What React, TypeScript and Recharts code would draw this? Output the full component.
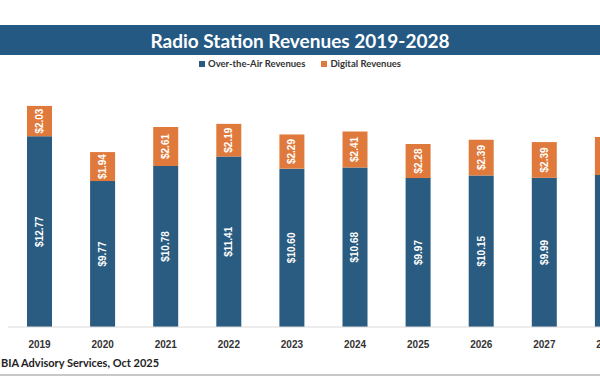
import React from 'react';
import { BarChart, Bar, XAxis, YAxis, LabelList } from 'recharts';

const years = ['2019', '2020', '2021', '2022', '2023', '2024', '2025', '2026', '2027', '2028'];
const overTheAir = [12.77, 9.77, 10.78, 11.41, 10.6, 10.68, 9.97, 10.15, 9.99, 10.17];
const digital = [2.03, 1.94, 2.61, 2.19, 2.29, 2.41, 2.28, 2.39, 2.39, 2.55];

const BLUE = '#2a5b80';
const ORANGE = '#e07a3c';
const TITLE_BG = '#245984';

const data = years.map((year, i) => ({ year, ota: overTheAir[i], digital: digital[i] }));

const renderLabel = (props: any) => {
  const { x, y, width, height, value } = props;
  const cx = x + width / 2;
  const cy = y + height / 2;
  return (
    <text
      x={cx}
      y={cy}
      transform={`rotate(-90, ${cx}, ${cy})`}
      textAnchor="middle"
      dominantBaseline="central"
      fill="#ffffff"
      fontFamily="Liberation Sans, Arial, sans-serif"
      fontWeight={700}
      fontSize={10}
    >
      {`$${Number(value).toFixed(2)}`}
    </text>
  );
};

const legendItems = [
  { label: 'Over-the-Air Revenues', color: BLUE },
  { label: 'Digital Revenues', color: ORANGE },
];

export default function App() {
  return (
    <div style={{ position: 'fixed', top: 0, left: 0, width: 600, height: 384, overflow: 'hidden', background: '#fff' }}>
      <div
        style={{
          position: 'absolute', top: 25, left: 0, width: 600, height: 30, background: TITLE_BG,
          color: '#fff', fontFamily: 'Lato, sans-serif', fontWeight: 700, fontSize: 19,
          display: 'flex', alignItems: 'center', justifyContent: 'center',
        }}
      >
        Radio Station Revenues 2019-2028
      </div>
      <div
        style={{
          position: 'absolute', top: 58, left: 0, width: 600, display: 'flex', justifyContent: 'center', gap: 16,
          fontFamily: 'Lato, sans-serif', fontSize: 9.5, fontWeight: 700, color: '#333',
        }}
      >
        {legendItems.map((item) => (
          <div key={item.label} style={{ display: 'flex', alignItems: 'center', gap: 3 }}>
            <span style={{ width: 6, height: 6, background: item.color, display: 'inline-block' }} />
            <span>{item.label}</span>
          </div>
        ))}
      </div>
      <div style={{ position: 'absolute', top: 0, left: 0 }}>
        <BarChart width={660} height={384} data={data} margin={{ top: 88, right: 21, left: 8, bottom: 27 }}>
          <XAxis
            dataKey="year"
            height={30}
            tickLine={false}
            axisLine={{ stroke: '#d9d9d9' }}
            tick={{ fill: '#333', fontSize: 10, fontWeight: 700, fontFamily: 'Liberation Sans, Arial, sans-serif' }}
            tickMargin={8}
            interval={0}
          />
          <YAxis hide domain={[0, 16]} />
          <Bar dataKey="ota" stackId="a" fill={BLUE} barSize={25} isAnimationActive={false}>
            <LabelList dataKey="ota" content={renderLabel} />
          </Bar>
          <Bar dataKey="digital" stackId="a" fill={ORANGE} barSize={25} isAnimationActive={false}>
            <LabelList dataKey="digital" content={renderLabel} />
          </Bar>
        </BarChart>
      </div>
      <div style={{ position: 'absolute', top: 356, left: 1, fontFamily: 'Lato, sans-serif', fontWeight: 700, fontSize: 11, color: '#222' }}>
        BIA Advisory Services, Oct 2025
      </div>
      <div style={{ position: 'absolute', top: 374, left: 0, width: 600, height: 2, background: '#c8c8c8' }} />
    </div>
  );
}
